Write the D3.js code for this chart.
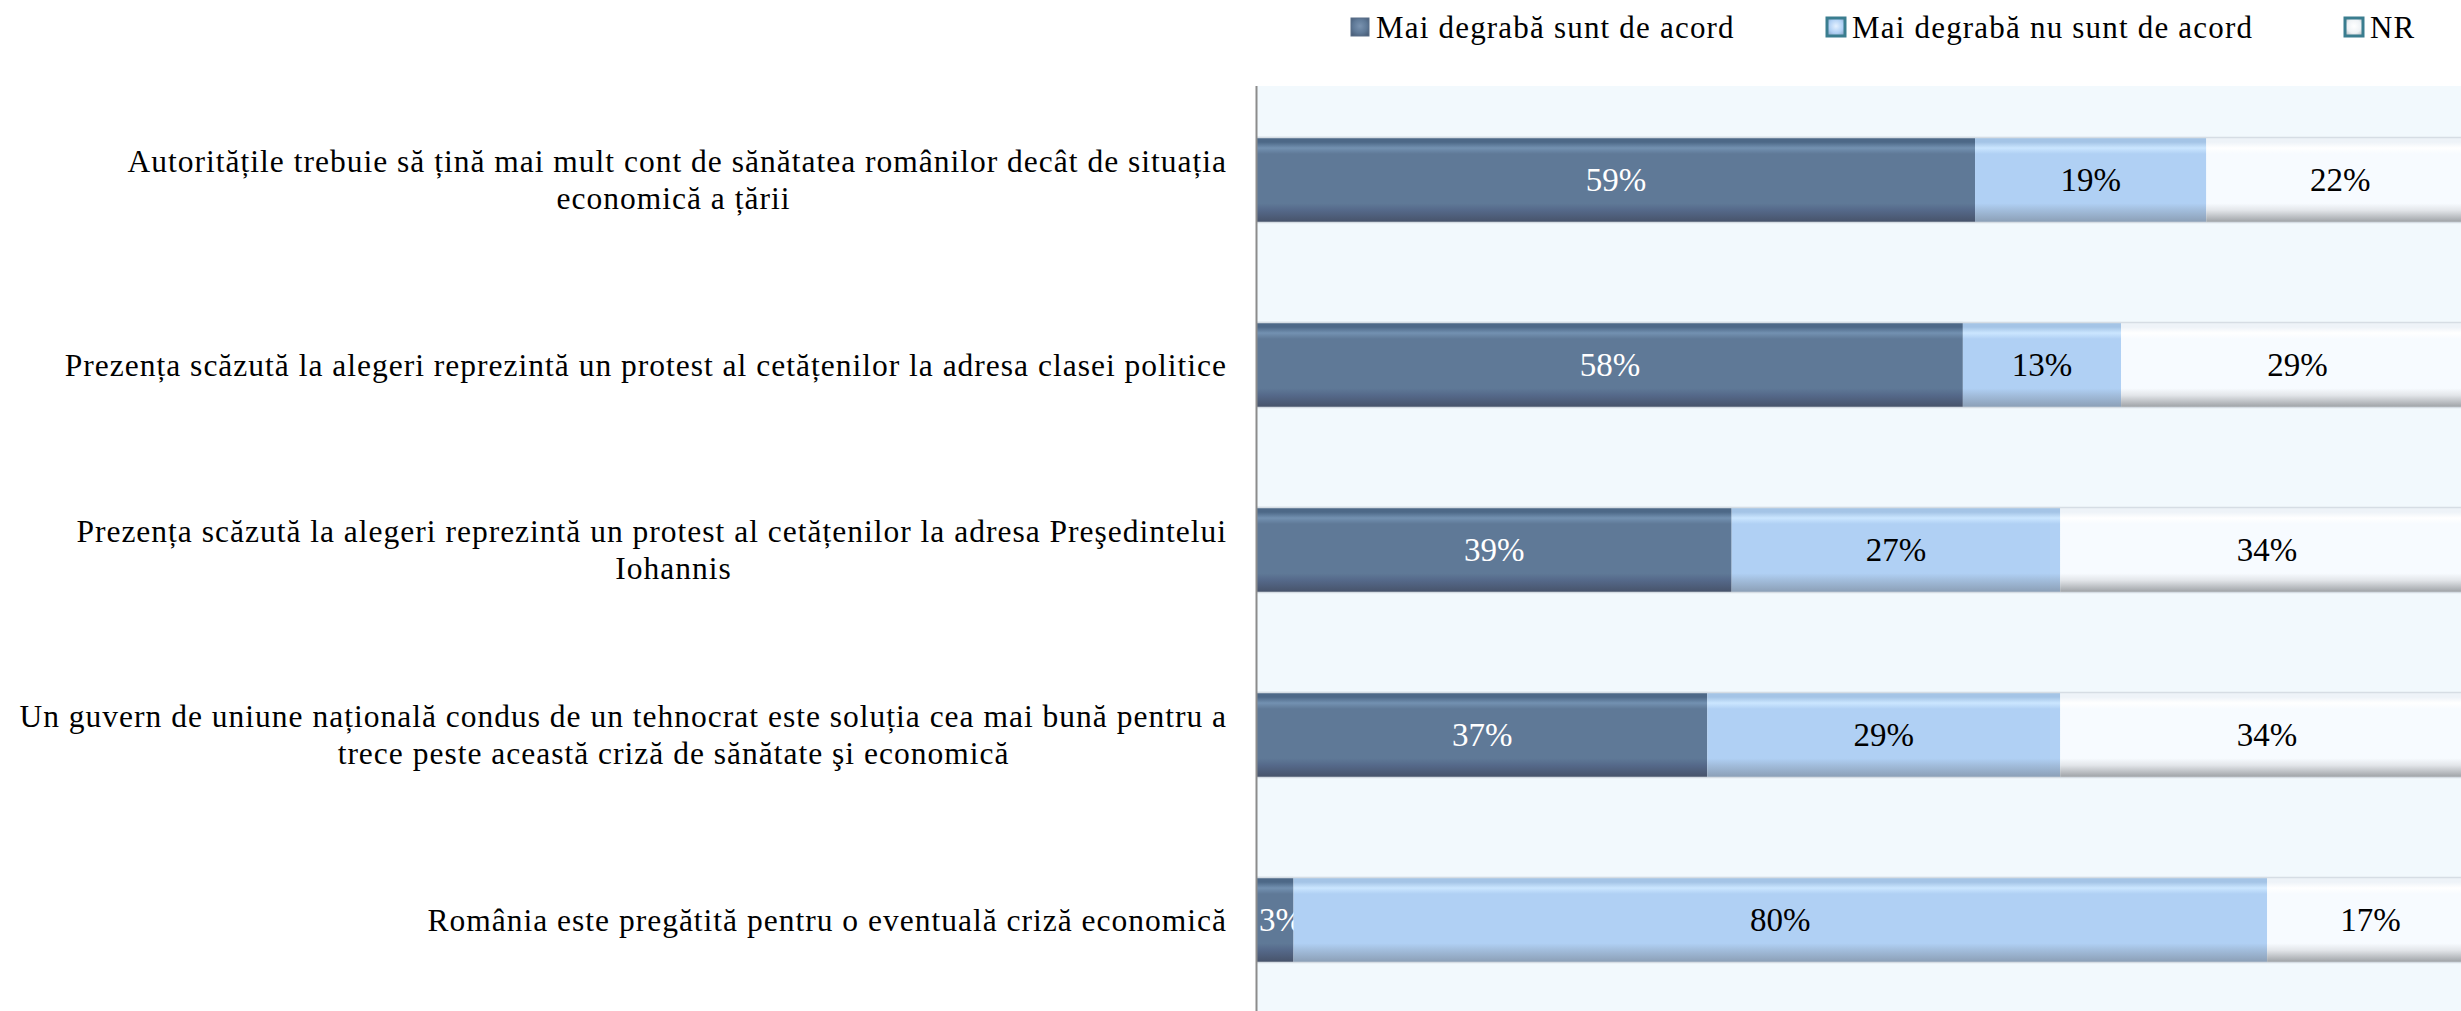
<!DOCTYPE html>
<meta charset="utf-8">
<head>
  <title>Acord / dezacord</title>
  <script src="https://cdn.jsdelivr.net/npm/d3@7"></script>
  <style>
    body { margin: 0; padding: 0; background: #fff; }
    svg { display: block; font-family: "Liberation Serif", "DejaVu Serif", serif; }
  </style>
</head>
<body>
<svg id="chart" width="2461" height="1011"></svg>
<script>
  // categories (one entry per line of the label, as wrapped in the picture)
  var categoryLines = [
    ["Autoritățile trebuie să țină mai mult cont de sănătatea românilor decât de situația", "economică a țării"],
    ["Prezența scăzută la alegeri reprezintă un protest al cetățenilor la adresa clasei politice"],
    ["Prezența scăzută la alegeri reprezintă un protest al cetățenilor la adresa Preşedintelui", "Iohannis"],
    ["Un guvern de uniune națională condus de un tehnocrat este soluția cea mai bună pentru a", "trece peste această criză de sănătate şi economică"],
    ["România este pregătită pentru o eventuală criză economică"]
  ];
  var seriesNames = ["Mai degrabă sunt de acord", "Mai degrabă nu sunt de acord", "NR"];
  var agree    = [59, 58, 39, 37, 3];
  var disagree = [19, 13, 27, 29, 80];
  var noAnswer = [22, 29, 34, 34, 17];

  var svg = d3.select("#chart"),
      W = 2461, H = 1011;

  var axisX = 1257, plotTop = 87, plotBottom = 1012;

  var x = d3.scaleLinear().domain([0, 100]).range([axisX, 2474]);
  var y = d3.scaleBand()
    .domain(d3.range(categoryLines.length))
    .range([plotTop, plotBottom])
    .paddingInner(0.54)
    .paddingOuter(0.27);

  var colors = [
    { top: "#4d6887", hi: "#7391b1", main: "#5f7997", low: "#55698a", bot: "#47536a", text: "#fff" },
    { top: "#a4c4e6", hi: "#cbe6ff", main: "#b0d0f4", low: "#a2bddc", bot: "#8b9fb6", text: "#000" },
    { top: "#eef3f8", hi: "#ffffff", main: "#f7fbff", low: "#e3e6ea", bot: "#9ea2a6", text: "#000" }
  ];

  var defs = svg.append("defs");
  colors.forEach(function(c, i) {
    var g = defs.append("linearGradient")
      .attr("id", "grad" + i)
      .attr("x1", 0).attr("y1", 0).attr("x2", 0).attr("y2", 1);
    [[0, c.top], [0.06, c.top], [0.13, c.hi], [0.2, c.main], [0.78, c.main], [0.86, c.low], [1, c.bot]]
      .forEach(function(s) { g.append("stop").attr("offset", s[0]).attr("stop-color", s[1]); });
  });
  // pillow shading for the legend keys
  var keyFill = [
    ["#7a93b0", "#5f7997", "#465a74"],
    ["#e4f1ff", "#b0d0f4", "#7f9cbc"],
    ["#ffffff", "#eef2f5", "#a9b0b6"]
  ];
  keyFill.forEach(function(c, i) {
    var g = defs.append("radialGradient").attr("id", "key" + i)
      .attr("cx", "50%").attr("cy", "45%").attr("r", "70%");
    g.append("stop").attr("offset", 0).attr("stop-color", c[0]);
    g.append("stop").attr("offset", 0.55).attr("stop-color", c[1]);
    g.append("stop").attr("offset", 1).attr("stop-color", c[2]);
  });

  // plot background
  svg.append("rect")
    .attr("x", axisX).attr("y", plotTop - 1)
    .attr("width", W - axisX).attr("height", H - plotTop + 1)
    .attr("fill", "#f2f9fd");

  // stacked rows
  var rows = categoryLines.map(function(lines, i) {
    var vals = [agree[i], disagree[i], noAnswer[i]];
    var acc = 0;
    return vals.map(function(v, k) {
      var seg = { row: i, k: k, v: v, x0: acc, x1: acc + v };
      acc += v;
      return seg;
    });
  });

  var bars = svg.append("g").attr("class", "bars");
  var seg = bars.selectAll("g.row")
    .data(rows)
    .enter().append("g").attr("class", "row")
    .selectAll("g.seg")
    .data(function(d) { return d; })
    .enter().append("g").attr("class", "seg");

  seg.append("rect")
    .attr("x", function(d) { return x(d.x0); })
    .attr("y", function(d) { return y(d.row); })
    .attr("width", function(d) { return x(d.x1) - x(d.x0); })
    .attr("height", y.bandwidth())
    .attr("fill", function(d) { return "url(#grad" + d.k + ")"; });

  // thin light edge along top and bottom of the bars
  bars.selectAll("line.edge")
    .data(d3.range(categoryLines.length).flatMap(function(i) { return [y(i), y(i) + y.bandwidth()]; }))
    .enter().append("line")
    .attr("x1", axisX).attr("x2", W)
    .attr("y1", function(d) { return d + 0.5; })
    .attr("y2", function(d) { return d + 0.5; })
    .attr("stroke", "#d6dde4").attr("stroke-width", 1.5);

  seg.append("text")
    .attr("x", function(d) { return (x(d.x0) + x(d.x1)) / 2; })
    .attr("y", function(d) { return y(d.row) + y.bandwidth() / 2; })
    .attr("dy", "0.35em")
    .attr("text-anchor", "middle")
    .attr("font-size", 33)
    .attr("fill", function(d) { return colors[d.k].text; })
    .text(function(d) { return d.v + "%"; })
    .each(function(d) {
      // keep labels inside the plot area (Excel pushes them off the axis)
      var half = this.getComputedTextLength() / 2;
      var cx = (x(d.x0) + x(d.x1)) / 2;
      if (cx - half < axisX + 2) d3.select(this).attr("x", axisX + 2 + half);
    });

  // category axis line
  svg.append("line")
    .attr("x1", axisX - 0.5).attr("x2", axisX - 0.5)
    .attr("y1", plotTop - 1).attr("y2", H)
    .attr("stroke", "#8c8c8c").attr("stroke-width", 2);

  // category labels: block right-aligned near axis, wrapped lines centered
  var labelRight = axisX - 30, boxWidth = 1107, lineH = 37;
  var labels = svg.append("g")
    .attr("font-size", 31.5)
    .attr("letter-spacing", 1)
    .attr("fill", "#000");
  categoryLines.forEach(function(lines, i) {
    var cy = y(i) + y.bandwidth() / 2;
    lines.forEach(function(line, j) {
      var ly = cy + (j - (lines.length - 1) / 2) * lineH;
      var first = j === 0;
      labels.append("text")
        .attr("x", first ? labelRight : labelRight - boxWidth / 2)
        .attr("y", ly)
        .attr("dy", "0.35em")
        .attr("text-anchor", first ? "end" : "middle")
        .text(line);
    });
  });

  // legend
  var legendX = [1351, 1827, 2345];
  var legend = svg.append("g").attr("class", "legend");
  var item = legend.selectAll("g")
    .data(seriesNames)
    .enter().append("g")
    .attr("transform", function(d, i) { return "translate(" + legendX[i] + ",27)"; });

  item.append("rect")
    .attr("x", 0).attr("y", -9)
    .attr("width", 18).attr("height", 18)
    .attr("fill", function(d, i) { return "url(#key" + i + ")"; })
    .attr("stroke", function(d, i) { return i === 0 ? "#5a6f88" : "#3a7d8f"; })
    .attr("stroke-width", function(d, i) { return i === 0 ? 1 : 3; });

  item.append("text")
    .attr("x", 25).attr("y", 0)
    .attr("dy", "0.35em")
    .attr("font-size", 31)
    .attr("letter-spacing", 1.2)
    .text(function(d) { return d; });
</script>
</body>
